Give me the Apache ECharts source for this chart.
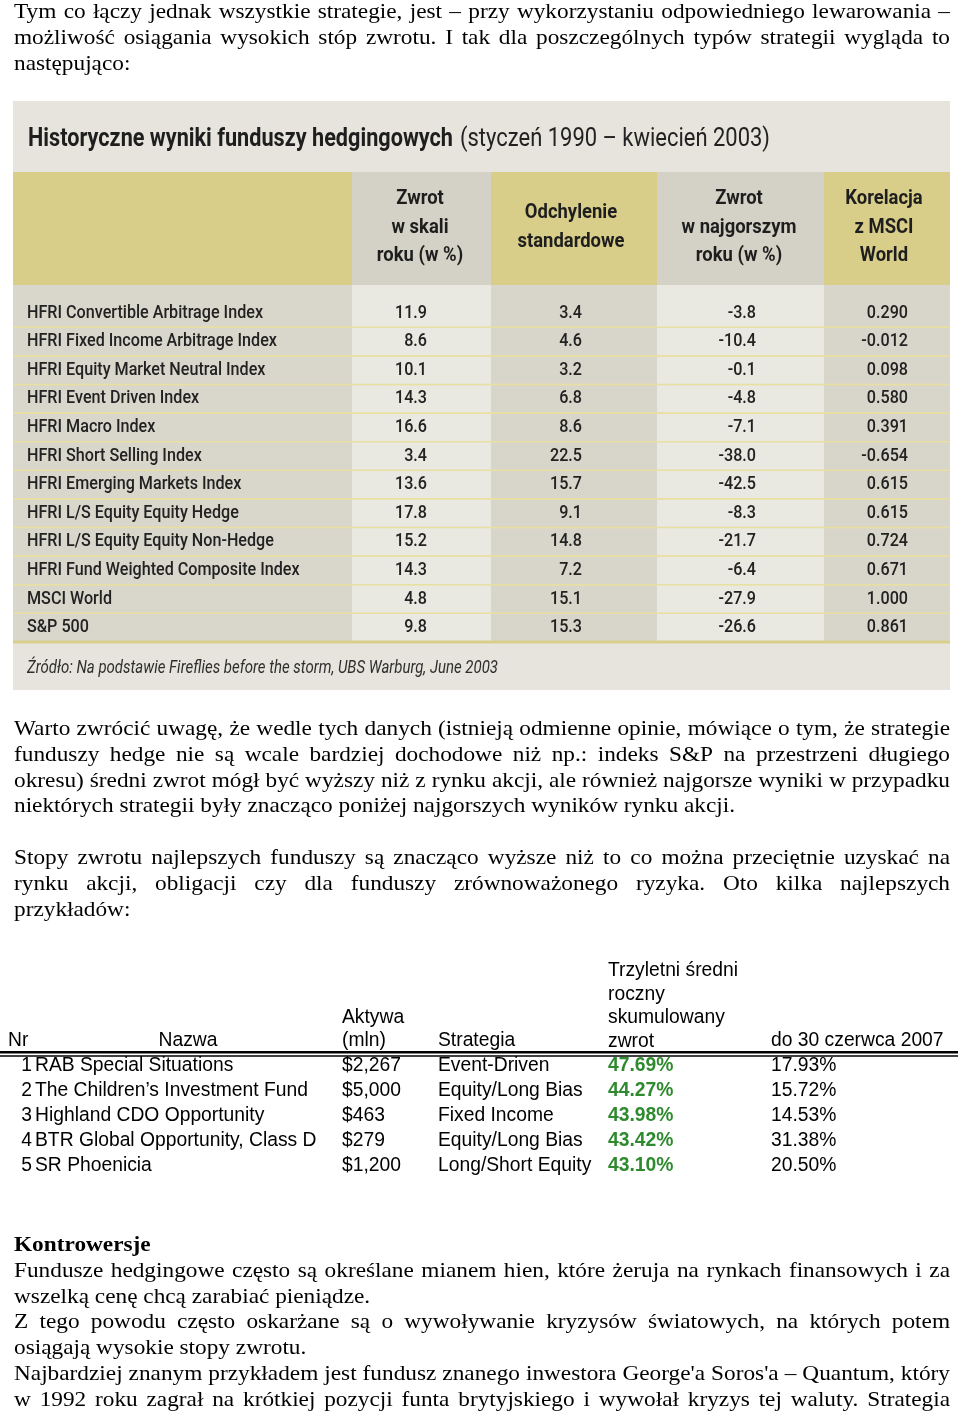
<!DOCTYPE html>
<html>
<head>
<meta charset="utf-8">
<script src="https://cdn.jsdelivr.net/npm/echarts@6/dist/echarts.min.js"></script>
<style>
  html, body { margin: 0; padding: 0; background: #fff; }
  #chart { width: 960px; height: 1412px; }
</style>
</head>
<body>
<div id="chart"></div>
<script>
// tabela 1 - historyczne wyniki (styczeń 1990 - kwiecień 2003)
const fundIndices = [
  'HFRI Convertible Arbitrage Index',
  'HFRI Fixed Income Arbitrage Index',
  'HFRI Equity Market Neutral Index',
  'HFRI Event Driven Index',
  'HFRI Macro Index',
  'HFRI Short Selling Index',
  'HFRI Emerging Markets Index',
  'HFRI L/S Equity Equity Hedge',
  'HFRI L/S Equity Equity Non-Hedge',
  'HFRI Fund Weighted Composite Index',
  'MSCI World',
  'S&P 500'
]
const annualReturn = [11.9, 8.6, 10.1, 14.3, 16.6, 3.4, 13.6, 17.8, 15.2, 14.3, 4.8, 9.8]
const stdDeviation = [3.4, 4.6, 3.2, 6.8, 8.6, 22.5, 15.7, 9.1, 14.8, 7.2, 15.1, 15.3]
const worstYearReturn = [-3.8, -10.4, -0.1, -4.8, -7.1, -38.0, -42.5, -8.3, -21.7, -6.4, -27.9, -26.6]
const msciCorrelation = [0.290, -0.012, 0.098, 0.580, 0.391, -0.654, 0.615, 0.615, 0.724, 0.671, 1.000, 0.861]
const hedgeHeaders = [
  ['Zwrot', 'w skali', 'roku (w %)'],
  ['Odchylenie', 'standardowe'],
  ['Zwrot', 'w najgorszym', 'roku (w %)'],
  ['Korelacja', 'z MSCI', 'World']
]
const hedgeTitle = 'Historyczne wyniki funduszy hedgingowych'
const hedgePeriod = '(styczeń 1990 – kwiecień 2003)'
const hedgeSource = 'Źródło: Na podstawie Fireflies before the storm, UBS Warburg, June 2003'

// tabela 2 - najlepsze fundusze
const topRank = [1, 2, 3, 4, 5]
const topNames = [
  'RAB Special Situations',
  'The Children’s Investment Fund',
  'Highland CDO Opportunity',
  'BTR Global Opportunity, Class D',
  'SR Phoenicia'
]
const topAssets = [2267, 5000, 463, 279, 1200]
const topStrategy = ['Event-Driven', 'Equity/Long Bias', 'Fixed Income', 'Equity/Long Bias', 'Long/Short Equity']
const topReturn3y = [47.69, 44.27, 43.98, 43.42, 43.10]
const topReturnYtd = [17.93, 15.72, 14.53, 31.38, 20.50]

// tekst artykułu (j = wyjustowana linia)
const para1 = [
  { t: 'Tym co łączy jednak wszystkie strategie, jest – przy wykorzystaniu odpowiedniego lewarowania –', j: true },
  { t: 'możliwość osiągania wysokich stóp zwrotu. I tak dla poszczególnych typów strategii wygląda to', j: true },
  { t: 'następująco:' }
]
const para2 = [
  { t: 'Warto zwrócić uwagę, że wedle tych danych (istnieją odmienne opinie, mówiące o tym, że strategie', j: true },
  { t: 'funduszy hedge nie są wcale bardziej dochodowe niż np.: indeks S&P na przestrzeni długiego', j: true },
  { t: 'okresu) średni zwrot mógł być wyższy niż z rynku akcji, ale również najgorsze wyniki w przypadku', j: true },
  { t: 'niektórych strategii były znacząco poniżej najgorszych wyników rynku akcji.' }
]
const para3 = [
  { t: 'Stopy zwrotu najlepszych funduszy są znacząco wyższe niż to co można przeciętnie uzyskać na', j: true },
  { t: 'rynku akcji, obligacji czy dla funduszy zrównoważonego ryzyka. Oto kilka najlepszych', j: true },
  { t: 'przykładów:' }
]
const para4 = [
  { t: 'Kontrowersje', b: true },
  { t: 'Fundusze hedgingowe często są określane mianem hien, które żeruja na rynkach finansowych i za', j: true },
  { t: 'wszelką cenę chcą zarabiać pieniądze.' },
  { t: 'Z tego powodu często oskarżane są o wywoływanie kryzysów światowych, na których potem', j: true },
  { t: 'osiągają wysokie stopy zwrotu.' },
  { t: 'Najbardziej znanym przykładem jest fundusz znanego inwestora George\'a Soros\'a – Quantum, który', j: true },
  { t: 'w 1992 roku zagrał na krótkiej pozycji funta brytyjskiego i wywołał kryzys tej waluty. Strategia', j: true }
]

// układ strony
const TEXT_LEFT = 14
const TEXT_RIGHT = 950
const LINE_STEP = 25.9
const SERIF = '22px "Liberation Serif"'
const SERIF_BOLD = 'bold 22px "Liberation Serif"'
const CELL_FONT = '500 18px Roboto'
const HEAD_FONT = 'bold 20px Roboto'
const TITLE_BOLD = 'bold 25px Roboto'
const TITLE_REG = '25px Roboto'
const SOURCE_FONT = 'italic 18px Roboto'
const ARIAL = '19.3px "Liberation Sans"'
const ARIAL_BOLD = 'bold 19.3px "Liberation Sans"'

const colEdges = [13, 352, 491, 657, 824, 950]
const headCenters = [420, 571, 739, 884]
const HEDGE_CELL_X = [14, 414, 569, 743, 895] // offsety wewnątrz siatki (left 13)
const TOP_CELL_X = [32, 35, 342, 438, 608, 771]

const ctx = document.createElement('canvas').getContext('2d')
function measure(str, font) {
  ctx.font = font
  return ctx.measureText(str).width
}

// dopasowanie szerokości do oryginału
const SERIF_SX = 721 / measure(para2[3].t, SERIF)
const CELL_SX = 236 / measure(fundIndices[0], CELL_FONT)
const HEAD_SX = 107 / measure('standardowe', HEAD_FONT)
const TITLE_SX = 425 / measure(hedgeTitle, TITLE_BOLD)
const PERIOD_SX = 310 / measure(hedgePeriod, TITLE_REG)
const SOURCE_SX = 471 / measure(hedgeSource, SOURCE_FONT)

function textEl(text, x, y, font, opts = {}) {
  return {
    type: 'text',
    x: x,
    y: y,
    scaleX: opts.sx || 1,
    silent: true,
    style: {
      text: text,
      font: font,
      fill: opts.fill || '#000',
      textAlign: opts.align || 'left',
      textVerticalAlign: 'middle'
    }
  }
}

function paragraph(lines, top) {
  const els = []
  lines.forEach((line, k) => {
    const y = top + k * LINE_STEP
    const font = line.b ? SERIF_BOLD : SERIF
    if (!line.j) {
      els.push(textEl(line.t, TEXT_LEFT, y, font, { sx: SERIF_SX }))
      return
    }
    const words = line.t.split(' ')
    const widths = words.map((w) => measure(w, font) * SERIF_SX)
    const total = widths.reduce((a, b) => a + b, 0)
    const gap = (TEXT_RIGHT - TEXT_LEFT - total) / (words.length - 1)
    let x = TEXT_LEFT
    words.forEach((w, i) => {
      els.push(textEl(w, x, y, font, { sx: SERIF_SX }))
      x += widths[i] + gap
    })
  })
  return els
}

const graphics = []

// tło tabeli 1
graphics.push({ type: 'rect', silent: true, shape: { x: 13, y: 101, width: 937, height: 589 }, style: { fill: '#e6e4dc' } })
const headColors = ['#d8ce8a', '#d4d2c6', '#d8ce8a', '#d4d2c6', '#d8ce8a']
const bodyColors = ['#d9d7cc', '#e9e8e1', '#d8d6ca', '#e9e8e1', '#d8d6ca']
for (let c = 0; c < 5; c++) {
  graphics.push({ type: 'rect', silent: true, shape: { x: colEdges[c], y: 172, width: colEdges[c + 1] - colEdges[c], height: 113 }, style: { fill: headColors[c] } })
  graphics.push({ type: 'rect', silent: true, shape: { x: colEdges[c], y: 285, width: colEdges[c + 1] - colEdges[c], height: 357 }, style: { fill: bodyColors[c] } })
}
graphics.push(textEl(hedgeTitle, 28, 140, TITLE_BOLD, { sx: TITLE_SX, fill: '#1e1e1e' }))
graphics.push(textEl(hedgePeriod, 460, 140, TITLE_REG, { sx: PERIOD_SX, fill: '#222' }))
hedgeHeaders.forEach((lines, c) => {
  lines.forEach((t, k) => {
    const y = 227.5 + (k - (lines.length - 1) / 2) * 28.5
    graphics.push(textEl(t, headCenters[c], y, HEAD_FONT, { sx: HEAD_SX, fill: '#1e1e1e', align: 'center' }))
  })
})
graphics.push(textEl(hedgeSource, 27, 668, SOURCE_FONT, { sx: SOURCE_SX, fill: '#2e2e2e' }))

// nagłówek tabeli 2
graphics.push(textEl('Nr', 8, 1041, ARIAL))
graphics.push(textEl('Nazwa', 188, 1041, ARIAL, { align: 'center' }))
graphics.push(textEl('Aktywa', 342, 1018, ARIAL))
graphics.push(textEl('(mln)', 342, 1041, ARIAL))
graphics.push(textEl('Strategia', 438, 1041, ARIAL))
;['Trzyletni średni', 'roczny', 'skumulowany', 'zwrot'].forEach((t, k) => {
  graphics.push(textEl(t, 608, 971 + k * 23.5, ARIAL))
})
graphics.push(textEl('do 30 czerwca 2007', 771, 1041, ARIAL))
graphics.push({ type: 'rect', silent: true, shape: { x: 0, y: 1051, width: 958, height: 2.5 }, style: { fill: '#000' } })
graphics.push({ type: 'rect', silent: true, shape: { x: 0, y: 1055.3, width: 958, height: 1.4 }, style: { fill: '#000' } })

// akapity
graphics.push(...paragraph(para1, 12))
graphics.push(...paragraph(para2, 729))
graphics.push(...paragraph(para3, 858))
graphics.push(...paragraph(para4, 1245))

function renderHedgeRow(params, api) {
  const i = params.dataIndex
  const cy = api.coord([0, i])[1]
  const rowH = api.size([0, 1])[1]
  const cs = params.coordSys
  const yLine = cy + rowH / 2
  const last = i === fundIndices.length - 1
  const cells = [
    fundIndices[i],
    annualReturn[i].toFixed(1),
    stdDeviation[i].toFixed(1),
    worstYearReturn[i].toFixed(1),
    msciCorrelation[i].toFixed(3)
  ]
  const children = [{
    type: 'line',
    shape: { x1: cs.x, y1: yLine, x2: cs.x + cs.width, y2: yLine },
    style: { stroke: last ? '#d9cf8c' : '#e9df9f', lineWidth: last ? 3 : 1.6 }
  }]
  cells.forEach((txt, c) => {
    const x = api.coord([HEDGE_CELL_X[c], i])[0]
    children.push(textEl(txt, x, cy, CELL_FONT, { sx: CELL_SX, fill: '#222', align: c === 0 ? 'left' : 'right' }))
  })
  return { type: 'group', children }
}

function renderTopRow(params, api) {
  const i = params.dataIndex
  const cy = api.coord([0, i])[1]
  const cells = [
    String(topRank[i]),
    topNames[i],
    '$' + topAssets[i].toLocaleString('en-US'),
    topStrategy[i],
    topReturn3y[i].toFixed(2) + '%',
    topReturnYtd[i].toFixed(2) + '%'
  ]
  const children = cells.map((txt, c) => {
    const x = api.coord([TOP_CELL_X[c], i])[0]
    return textEl(txt, x, cy, c === 4 ? ARIAL_BOLD : ARIAL, {
      fill: c === 4 ? '#2f8a2f' : '#000',
      align: c === 0 ? 'right' : 'left'
    })
  })
  return { type: 'group', children }
}

const chart = echarts.init(document.getElementById('chart'), null, { renderer: 'canvas' })
chart.setOption({
  animation: false,
  backgroundColor: '#fff',
  grid: [
    { left: 13, top: 298.7, width: 937, height: 343.2 },
    { left: 0, top: 1053, width: 960, height: 125 }
  ],
  xAxis: [
    { type: 'value', gridIndex: 0, min: 0, max: 937, show: false },
    { type: 'value', gridIndex: 1, min: 0, max: 960, show: false }
  ],
  yAxis: [
    { type: 'category', gridIndex: 0, data: fundIndices, inverse: true, show: false },
    { type: 'category', gridIndex: 1, data: topNames, inverse: true, show: false }
  ],
  graphic: { elements: graphics },
  series: [
    {
      type: 'custom',
      xAxisIndex: 0,
      yAxisIndex: 0,
      silent: true,
      data: fundIndices.map((n, i) => [0, i]),
      encode: { x: 0, y: 1 },
      renderItem: renderHedgeRow
    },
    {
      type: 'custom',
      xAxisIndex: 1,
      yAxisIndex: 1,
      silent: true,
      data: topNames.map((n, i) => [0, i]),
      encode: { x: 0, y: 1 },
      renderItem: renderTopRow
    }
  ]
})
</script>
</body>
</html>
